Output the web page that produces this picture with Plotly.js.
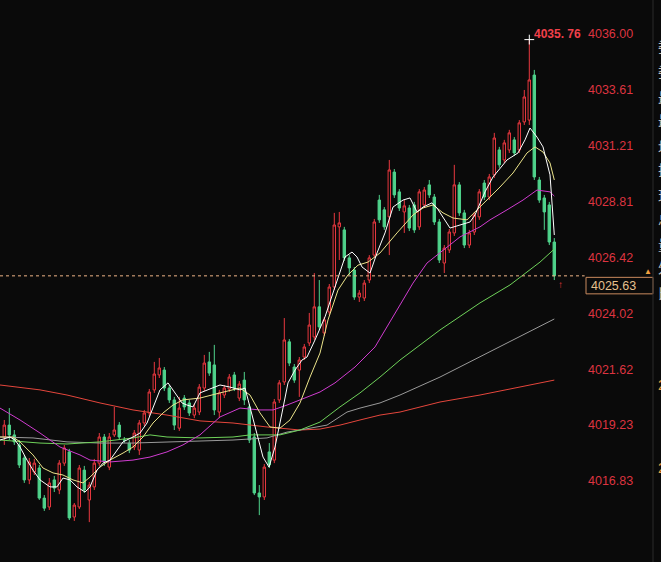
<!DOCTYPE html>
<html><head><meta charset="utf-8">
<script src="https://cdn.plot.ly/plotly-3.0.1.min.js"></script>
<style>html,body{margin:0;padding:0;background:#0a0a0a;}#chart{width:661px;height:562px;}</style>
</head><body><div id="chart"></div>
<script>
// ---- data ----
const open = [
4018.72,4019.23,4018.81,4018.38,4017.82,4016.88,4017.22,4017.39,4016.10,4015.72,
4016.88,4016.45,4017.60,4018.08,4015.29,4015.72,4017.30,4016.02,4016.58,4017.60,
4018.72,4017.43,4018.81,4019.23,4018.59,4018.46,4018.29,4018.16,4019.32,4019.75,
4020.74,4021.38,4021.59,4020.82,4020.31,4019.10,4020.39,4020.18,4019.66,4019.79,
4020.82,4021.94,4021.81,4019.79,4020.52,4020.78,4021.38,4020.39,4021.16,4020.01,
4018.72,4016.32,4016.15,4018.08,4017.73,4020.31,4021.08,4022.80,4021.72,4021.59,
4022.15,4022.75,4023.01,4024.30,4023.18,4024.08,4025.15,4027.73,4027.60,4026.40,
4025.88,4024.72,4024.68,4025.45,4026.52,4028.88,4028.46,4028.16,4030.08,4029.23,
4028.37,4028.54,4028.67,4027.73,4028.67,4029.53,4029.01,4027.94,4026.18,4026.74,
4027.47,4029.53,4028.33,4026.95,4027.51,4028.16,4029.61,4029.01,4029.96,4031.03,
4030.60,4031.03,4031.46,4031.03,4032.23,4032.31,4034.24,4029.74,4028.97,4028.67,
4027.08];
const high = [
4019.45,4019.96,4019.02,4018.59,4017.95,4017.82,4017.78,4017.52,4016.23,4016.96,
4017.05,4017.73,4018.38,4018.21,4015.89,4017.52,4017.48,4016.79,4017.78,4018.89,
4018.85,4018.89,4020.01,4019.36,4018.72,4018.59,4019.02,4019.45,4019.88,4020.78,
4021.94,4022.11,4021.72,4020.95,4020.44,4020.44,4020.52,4020.31,4020.13,4020.99,
4022.24,4022.37,4022.67,4020.74,4020.95,4021.42,4021.51,4021.12,4021.51,4020.13,
4018.89,4016.66,4017.56,4018.46,4020.35,4021.16,4023.82,4022.92,4021.85,4022.15,
4022.71,4024.04,4025.75,4025.45,4023.87,4025.28,4028.33,4028.37,4027.73,4026.52,
4026.01,4025.02,4025.45,4026.52,4028.07,4029.10,4028.58,4030.60,4030.21,4029.35,
4028.88,4028.67,4028.80,4029.35,4029.44,4029.74,4029.14,4028.07,4026.95,4027.64,
4030.39,4029.65,4028.46,4027.60,4028.37,4029.35,4029.74,4030.00,4031.76,4031.16,
4031.46,4031.89,4031.58,4032.31,4033.60,4035.76,4034.46,4029.87,4029.10,4028.80,
4027.25];
const low = [
4018.38,4018.59,4018.38,4017.39,4016.75,4016.70,4017.09,4016.02,4015.55,4015.59,
4016.36,4016.27,4017.48,4015.16,4015.12,4015.63,4016.32,4015.07,4016.45,4017.48,
4017.48,4017.30,4018.72,4018.59,4018.46,4018.03,4018.16,4017.95,4019.19,4019.62,
4020.61,4021.25,4020.69,4020.18,4019.02,4018.98,4019.88,4019.62,4019.53,4019.66,
4020.69,4021.34,4019.66,4019.53,4020.39,4020.65,4020.69,4020.26,4020.09,4018.46,
4016.23,4015.37,4016.02,4017.39,4017.60,4020.18,4020.95,4021.76,4021.04,4020.44,
4022.02,4022.62,4022.88,4023.31,4023.05,4023.95,4025.02,4026.31,4026.27,4025.67,
4024.60,4024.51,4024.55,4025.32,4026.40,4027.90,4027.60,4026.52,4028.97,4028.41,
4027.47,4027.55,4027.47,4027.60,4028.54,4028.97,4027.81,4026.18,4025.75,4026.61,
4027.34,4028.20,4026.82,4026.82,4027.38,4028.03,4028.88,4028.88,4029.83,4030.26,
4030.47,4030.90,4030.77,4030.90,4032.10,4032.10,4029.74,4028.76,4027.60,4026.95,
4025.45];
const close = [
4019.23,4018.81,4018.51,4017.52,4016.88,4017.65,4017.60,4016.10,4015.67,4016.75,
4016.53,4017.60,4018.25,4015.25,4015.80,4017.39,4016.45,4016.66,4017.60,4018.72,
4017.65,4018.72,4019.02,4018.72,4018.59,4018.16,4018.89,4019.32,4019.75,4020.65,
4021.42,4021.68,4020.82,4020.31,4019.23,4019.96,4020.01,4019.75,4019.96,4020.86,
4021.89,4021.46,4019.88,4020.61,4020.82,4021.29,4020.82,4020.99,4020.31,4018.59,
4016.32,4016.15,4017.43,4017.52,4020.22,4021.04,4022.88,4021.89,4021.16,4022.02,
4022.58,4023.52,4024.30,4023.44,4023.74,4025.15,4027.81,4027.90,4026.40,4025.97,
4024.72,4024.89,4025.32,4026.40,4027.94,4028.03,4027.73,4030.17,4029.10,4028.54,
4028.63,4027.68,4027.60,4029.23,4029.31,4029.10,4027.94,4026.31,4026.82,4027.51,
4029.53,4028.33,4026.95,4027.47,4028.24,4029.23,4029.01,4029.87,4031.54,4030.39,
4031.33,4031.76,4030.90,4032.19,4033.30,4034.03,4029.87,4028.88,4028.37,4027.08,
4025.63];

// moving-average lines (x = bar index)
const ma5X  = [-0.86,1.14,2.14,3.14,4.54,5.74,7.14,9.14,10.54,11.74,13.14,14.54,16.14,17.14,18.54,19.74,21.14,22.54,23.74,25.74,27.14,28.54,29.74,31.14,32.74,34.14,35.54,36.54,37.74,39.14,40.54,43.14,45.14,47.14,48.14,49.14,50.54,51.74,52.94,54.14,55.54,56.74,58.14,59.54,60.54,62.14,64.14,66.14,68.14,69.54,70.54,71.54,73.14,74.54,76.14,77.74,79.74,81.14,82.54,83.74,85.54,86.54,87.74,89.14,91.14,93.14,94.14,96.14,97.74,100.54,102.74,104.14,105.14,106.54,107.74,109.14,110];
const ma5   = [4018.59,4018.72,4018.59,4018.29,4017.73,4017.30,4016.88,4016.58,4016.58,4016.96,4016.88,4016.58,4016.36,4016.58,4017.30,4017.60,4017.73,4018.16,4018.51,4018.72,4018.89,4019.32,4020.01,4020.74,4021.04,4020.61,4020.18,4020.09,4020.01,4020.61,4020.74,4020.95,4020.86,4020.74,4020.82,4020.01,4018.89,4017.86,4017.43,4018.29,4019.75,4021.04,4021.59,4022.02,4022.15,4022.88,4023.87,4025.15,4026.44,4026.65,4026.44,4026.01,4025.75,4026.61,4027.47,4028.58,4028.88,4028.97,4028.37,4028.58,4028.76,4028.54,4028.16,4027.68,4027.81,4027.94,4028.24,4029.23,4029.87,4030.60,4030.90,4031.46,4031.97,4031.58,4031.16,4029.96,4027.38];
const ma10X = [-0.86,1.74,3.14,5.74,7.74,9.74,11.74,13.74,15.74,17.14,19.14,21.14,23.74,25.74,27.74,29.74,31.74,33.74,35.74,37.74,39.14,43.14,47.14,49.14,51.14,53.14,55.14,57.14,59.14,61.14,63.14,64.74,66.74,68.74,70.74,72.74,75.14,78.54,81.74,83.74,85.74,87.74,89.74,92.54,95.14,99.14,101.74,104.54,106.14,107.74,109.14,110];
const ma10  = [4018.72,4018.72,4018.51,4017.95,4017.39,4017.18,4017.09,4016.88,4016.75,4017.00,4017.43,4017.73,4018.03,4018.29,4018.72,4019.32,4019.75,4020.09,4020.31,4020.35,4020.39,4020.61,4020.82,4020.52,4019.75,4019.15,4019.10,4019.45,4020.18,4021.29,4022.32,4023.74,4025.02,4025.67,4026.09,4026.22,4026.61,4027.47,4028.24,4028.54,4028.67,4028.33,4028.11,4028.03,4028.58,4029.44,4030.04,4030.90,4031.16,4030.94,4030.47,4029.74];
const ma20X = [-0.86,3.14,7.14,11.14,15.14,17.14,21.14,25.74,29.14,32.54,35.74,39.14,43.14,47.14,51.14,53.74,56.54,59.14,63.14,66.14,70.14,74.14,77.74,81.74,84.54,87.74,91.14,95.14,97.14,100.54,103.74,106.54,109.14,110];
const ma20  = [4019.96,4019.45,4018.89,4018.29,4017.95,4017.73,4017.65,4017.73,4017.86,4018.08,4018.38,4018.81,4019.58,4019.96,4019.88,4019.88,4020.09,4020.31,4020.65,4021.04,4021.72,4022.58,4023.87,4025.32,4026.18,4026.74,4027.30,4027.73,4028.03,4028.46,4028.88,4029.31,4029.23,4029.05];
const ma30X = [-0.86,3.14,7.14,12.54,19.14,25.74,29.14,32.54,39.14,45.74,49.14,55.14,59.14,63.14,67.14,71.14,75.14,79.14,87.14,95.14,101.14,107.14,110];
const ma30  = [4018.59,4018.51,4018.46,4018.42,4018.51,4018.68,4018.81,4018.72,4018.68,4018.72,4018.81,4018.81,4019.02,4019.36,4020.01,4020.61,4021.29,4022.02,4023.31,4024.47,4025.24,4026.22,4026.78];
const ma60X = [-0.86,5.74,12.54,19.14,25.74,32.54,39.14,45.74,52.54,56.54,59.14,64.54,68.54,71.14,75.14,79.14,87.14,95.14,103.14,110];
const ma60  = [4018.72,4018.68,4018.51,4018.46,4018.46,4018.51,4018.55,4018.59,4018.68,4018.93,4019.02,4019.23,4019.79,4019.96,4020.18,4020.52,4021.29,4022.15,4023.01,4023.78];
const ma120X = [-0.86,3.14,7.14,12.54,19.14,25.74,32.54,39.14,45.74,52.54,56.54,59.14,63.14,67.14,71.14,75.14,79.14,87.14,95.14,103.14,110];
const ma120  = [4020.95,4020.86,4020.74,4020.52,4020.18,4019.88,4019.66,4019.41,4019.32,4019.15,4019.06,4019.02,4019.06,4019.23,4019.45,4019.66,4019.79,4020.22,4020.52,4020.86,4021.16];

const tickVals = [4036.00,4033.61,4031.21,4028.81,4026.42,4024.02,4021.62,4019.23,4016.83];
const lastPrice = 4025.63;
const highPrice = 4035.76;
const highIndex = 105;
const sideLabels = ['委','委','最','最','均','振','现','总','量','外','比'];
const sideLabelY = [4035.5,4034.4,4033.3,4032.3,4031.2,4030.2,4029.1,4028.1,4027.0,4026.0,4024.9];

// ---- chart ----
const idx = open.map((_, i) => i);
const RED = '#e8383f', GRN = '#4fd28b';
const PXY = 1 / 23.32;  // price per pixel on the vertical axis (for label offsets)
const traces = [
  {type:'candlestick', x: idx, open, high, low, close, hoverinfo:'skip',
   increasing:{line:{color:RED, width:1}, fillcolor:'#0a0a0a'},
   decreasing:{line:{color:GRN, width:1}, fillcolor:GRN}, whiskerwidth:0},
  {type:'scatter', mode:'lines', x: ma120X, y: ma120, line:{color:'#e5463c', width:1}},
  {type:'scatter', mode:'lines', x: ma60X, y: ma60, line:{color:'#9a9a9a', width:1}},
  {type:'scatter', mode:'lines', x: ma30X, y: ma30, line:{color:'#6fd25a', width:1}},
  {type:'scatter', mode:'lines', x: ma20X, y: ma20, line:{color:'#d03cd0', width:1}},
  {type:'scatter', mode:'lines', x: ma10X, y: ma10, line:{color:'#ece48a', width:1}},
  {type:'scatter', mode:'lines', x: ma5X, y: ma5, line:{color:'#ffffff', width:1}},
  {type:'scatter', mode:'markers', x:[highIndex], y:[highPrice],
   marker:{symbol:'cross-thin', size:7, line:{color:'#ffffff', width:1}}}
];

const annotations = [
  {x: highIndex, y: highPrice, xref:'x', yref:'y', text: '4035. 76', showarrow:false,
   xanchor:'left', yanchor:'middle', xshift:3, yshift:6,
   font:{family:'Liberation Sans, Arial', size:12, color:'#f0404a', weight:'bold'}},
  {x: 589/580, y: lastPrice - 9.7 * PXY, xref:'paper', yref:'y', text: lastPrice.toFixed(2), showarrow:false,
   xanchor:'left', yanchor:'middle', align:'left',
   font:{family:'Liberation Sans, Arial', size:12.5, color:'#e6c08e'}},
  {x: 648/580, y: lastPrice, xref:'paper', yref:'y', text:'▲', showarrow:false,
   xanchor:'center', yanchor:'bottom', yshift:-2, font:{size:8, color:'#f0a040'}},
  {x: 111.2, y: lastPrice, xref:'x', yref:'y', text:'↑', showarrow:false,
   xanchor:'center', yanchor:'top', yshift:1, font:{size:10, color:'#e8383f'}}
];
sideLabels.forEach((t, i) => annotations.push({
  x: 656/580, y: sideLabelY[i], xref:'paper', yref:'y', text: t, showarrow:false,
  xanchor:'left', yanchor:'middle', font:{family:'Noto Sans CJK SC', size:14, color:'#bdbdbd'}}));
annotations.push({x: 656/580, y: 4020.95, xref:'paper', yref:'y', text:'2', showarrow:false,
  xanchor:'left', yanchor:'middle', font:{family:'Liberation Sans', size:14, color:'#e8a040'}});
annotations.push({x: 656/580, y: 4017.40, xref:'paper', yref:'y', text:'2', showarrow:false,
  xanchor:'left', yanchor:'middle', font:{family:'Liberation Sans', size:14, color:'#e8a040'}});

const layout = {
  width: 661, height: 562,
  margin: {l:0, r:81, t:0, b:0, pad:0},
  paper_bgcolor: '#0a0a0a', plot_bgcolor: '#0a0a0a',
  showlegend: false,
  xaxis: {range: [-0.86, 115.14], visible: false, rangeslider: {visible: false}, fixedrange: true},
  yaxis: {range: [4013.36, 4037.458], side: 'right', showgrid: false, zeroline: false,
          tickvals: tickVals, ticktext: tickVals.map(v => v.toFixed(2)), ticks: '',
          ticklabelstandoff: 7, showline: false,
          tickfont: {family: 'Liberation Sans, Arial', size: 12.5, color: '#dd3440'}},
  shapes: [
    {type:'line', xref:'paper', yref:'y', x0:0, x1:1.008, y0:lastPrice, y1:lastPrice,
     line:{color:'#efb487', width:1, dash:'3px,3px'}},
    {type:'rect', xref:'paper', yref:'y', x0:586/580, x1:653/580,
     y0: lastPrice - 1.5 * PXY, y1: lastPrice - 18 * PXY,
     line:{color:'#c98a5e', width:1}, fillcolor:'#0a0a0a'},
    {type:'line', xref:'paper', yref:'paper', x0:653/580, x1:653/580, y0:0, y1:1,
     line:{color:'#2a2a2a', width:1}}
  ],
  annotations
};
Plotly.newPlot('chart', traces, layout, {staticPlot: true, displayModeBar: false});
</script>
</body></html>
